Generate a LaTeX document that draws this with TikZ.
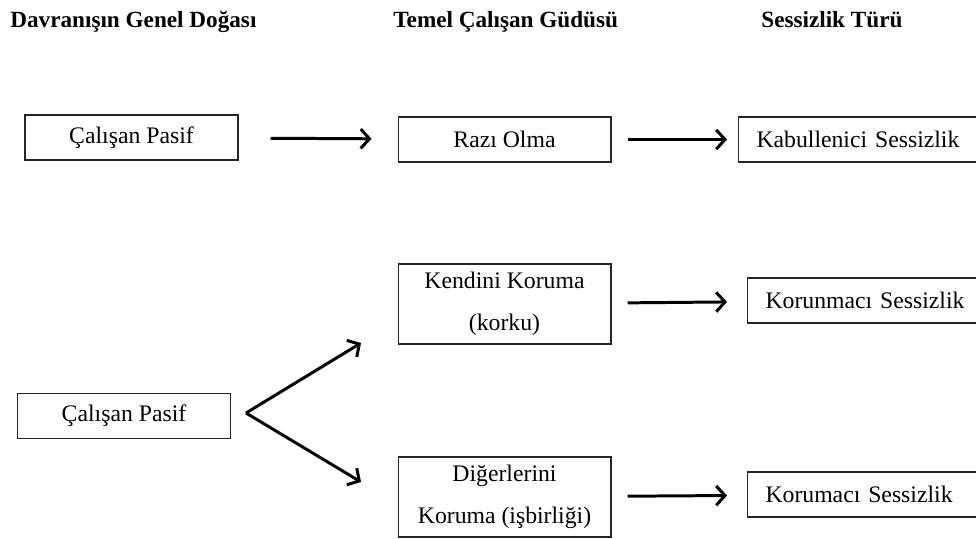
\documentclass[tikz,border=0pt]{standalone}
\usepackage{fontspec}
\setmainfont{Liberation Serif}
\usetikzlibrary{arrows.meta}

\begin{document}
\begin{tikzpicture}[x=0.02cm,y=-0.02cm,>={Straight Barb[length=5pt,width=11pt]},
  box/.style={draw=black!85,line width=0.6pt,minimum width=4.26cm,minimum height=0.9cm,inner sep=0pt,align=center,font=\fontsize{13.5}{24}\selectfont},
  tallbox/.style={box,minimum height=1.6cm},
  typebox/.style={draw=black!85,line width=0.6pt,anchor=west,minimum height=0.9cm,text width=4.6cm,align=left,inner xsep=0.36cm,inner ysep=0pt,font=\fontsize{13.5}{24}\selectfont},
  head/.style={anchor=base west,inner sep=0pt,font=\fontsize{13.2}{15}\selectfont\bfseries},
  link/.style={->,line width=1.7pt}]
  \useasboundingbox (0,0) rectangle (976,538);
  % column headings
  \node[head] (h1) at (10,27) {Davranışın Genel Doğası};
  \node[head] (h2) at (393,27) {Temel Çalışan Güdüsü};
  \node[head] (h3) at (761,27) {Sessizlik Türü};
  % first row
  \node[box] (pasif1) at (131.5,137.5) {Çalışan Pasif};
  \node[box] (razi) at (504.5,139.5) {Razı Olma};
  \node[typebox] (kabul) at (738,139.5) {Kabullenici Sessizlik};
  \draw[link,shorten <=0.64cm,shorten >=0.52cm] (pasif1) -- (razi);
  \draw[link,shorten <=0.32cm,shorten >=0.22cm] (razi) -- (kabul);
  % second group
  \node[box] (pasif2) at (124,416) {Çalışan Pasif};
  \node[tallbox] (kendini) at (504.5,304) {Kendini Koruma\\(korku)};
  \node[tallbox] (digerleri) at (504.5,497) {Diğerlerini\\Koruma (işbirliği)};
  \node[typebox] (korunmaci) at (747,300.5) {Korunmacı Sessizlik};
  \node[typebox] (korumaci) at (747,494.5) {Korumacı Sessizlik};
  \coordinate (fork) at (246,413);
  \coordinate (upTip) at (361,343);
  \coordinate (downTip) at (361,482);
  \draw[link] (fork) -- (upTip);
  \draw[link] (fork) -- (downTip);
  \draw[link,shorten <=0.32cm,shorten >=0.4cm] (kendini) -- (korunmaci);
  \draw[link,shorten <=0.32cm,shorten >=0.4cm] (digerleri) -- (korumaci);
\end{tikzpicture}
\end{document}
